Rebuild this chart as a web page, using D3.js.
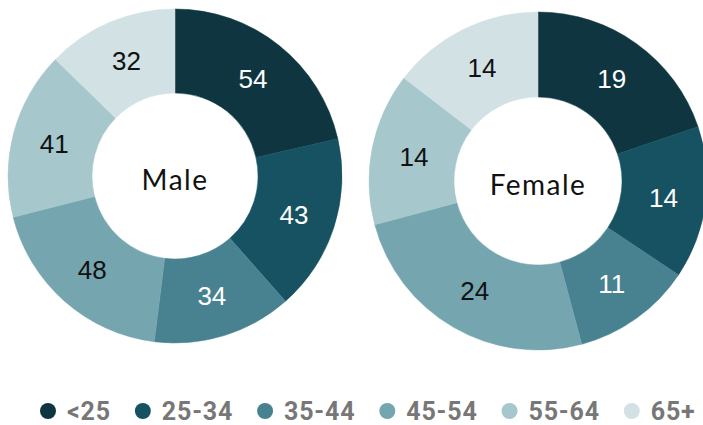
<!DOCTYPE html>
<html>
<head>
<meta charset="utf-8">
<script src="https://cdn.jsdelivr.net/npm/d3@7"></script>
<style>
  body { margin: 0; background: #fff; }
</style>
</head>
<body>
<div id="chart"></div>
<script>
// data
const ageGroups = ["<25", "25-34", "35-44", "45-54", "55-64", "65+"];
const maleValues = [54, 43, 34, 48, 41, 32];
const femaleValues = [19, 14, 11, 24, 14, 14];
const groupColors = ["#0f3640", "#165262", "#488290", "#75a6b0", "#a6c7cc", "#d1e1e4"];

const width = 703, height = 425;

let svg = d3.select("#chart")
    .append("svg")
    .attr("width", width)
    .attr("height", height);

let color = d3.scaleOrdinal()
    .domain(ageGroups)
    .range(groupColors);

let pie = d3.pie()
    .sort(null)
    .value(d => d.value);

function drawDonut(values, title, cx, cy, rOuter, rInner) {
    let data = ageGroups.map((g, i) => ({ group: g, value: values[i], idx: i }));
    let arc = d3.arc().innerRadius(rInner).outerRadius(rOuter);
    let g = svg.append("g").attr("transform", `translate(${cx},${cy})`);

    g.selectAll("path")
        .data(pie(data))
        .enter()
        .append("path")
        .attr("d", arc)
        .attr("fill", d => color(d.data.group))
        .attr("stroke", d => color(d.data.group))
        .attr("stroke-width", 0.5);

    g.selectAll("text.val")
        .data(pie(data))
        .enter()
        .append("text")
        .attr("class", "val")
        .attr("transform", d => `translate(${arc.centroid(d)})`)
        .attr("dy", "0.36em")
        .style("text-anchor", "middle")
        .style("font-family", "Liberation Sans, Arial, sans-serif")
        .style("font-size", "26px")
        .style("fill", d => d.data.idx < 3 ? "#ffffff" : "#111111")
        .text(d => d.data.value);

    // center title
    g.append("text")
        .attr("y", 4)
        .attr("dy", "0.35em")
        .style("text-anchor", "middle")
        .style("font-family", "Lato, sans-serif")
        .style("font-weight", 400)
        .style("font-size", "28px")
        .style("letter-spacing", "1.5px")
        .style("fill", "#111")
        .text(title);
}

drawDonut(maleValues, "Male", 175, 176, 167, 83);
drawDonut(femaleValues, "Female", 538, 181, 169, 84);

// legend
let legend = svg.append("g").attr("transform", "translate(48,411)");
let xPos = 0;
ageGroups.forEach(function(gName) {
    let item = legend.append("g").attr("transform", `translate(${xPos},0)`);
    item.append("circle")
        .attr("r", 8)
        .attr("fill", color(gName));
    let t = item.append("text")
        .attr("x", 19)
        .attr("dy", "0.36em")
        .style("font-family", "Roboto, sans-serif")
        .style("font-weight", "bold")
        .style("font-size", "25px")
        .style("letter-spacing", "0.8px")
        .style("fill", "#777777")
        .text(gName);
    xPos += 19 + t.node().getComputedTextLength() + 32;
});
</script>
</body>
</html>
